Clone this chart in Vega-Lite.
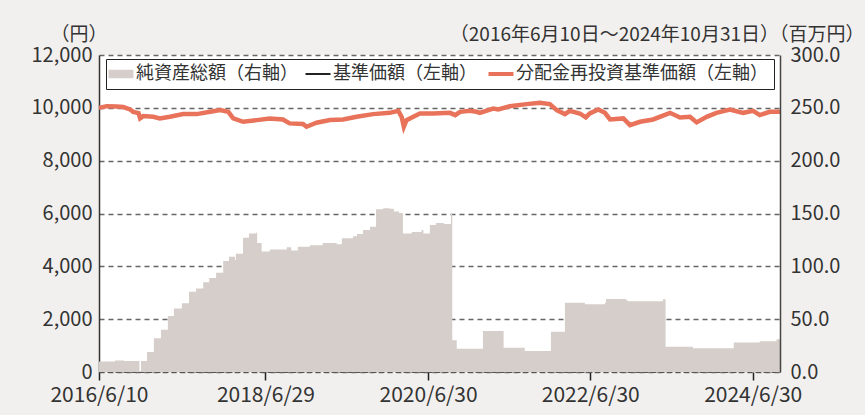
{
  "$schema": "https://vega.github.io/schema/vega-lite/v6.json",
  "width": 681,
  "height": 317,
  "autosize": {"type": "none"},
  "padding": {"left": 99, "top": 55, "right": 85, "bottom": 43},
  "background": "#f2f0ee",
  "config": {
    "view": {"fill": "#ffffff", "stroke": null},
    "font": "Noto Sans CJK JP",
    "axis": {"labelColor": "#333333", "titleColor": "#333333", "labelFont": "Noto Sans CJK JP", "titleFont": "Noto Sans CJK JP", "titleFontWeight": "normal"}
  },
  "datasets": {
    "assets": [
      {"date": "2016-06-10", "assets": 10},
      {"date": "2016-08-21", "assets": 11},
      {"date": "2016-09-30", "assets": 10.5},
      {"date": "2016-12-09", "assets": 1},
      {"date": "2016-12-16", "assets": 10.5},
      {"date": "2017-01-12", "assets": 19},
      {"date": "2017-02-12", "assets": 32},
      {"date": "2017-03-16", "assets": 40},
      {"date": "2017-04-16", "assets": 53},
      {"date": "2017-05-13", "assets": 60},
      {"date": "2017-06-18", "assets": 65},
      {"date": "2017-07-20", "assets": 76},
      {"date": "2017-08-21", "assets": 79},
      {"date": "2017-09-22", "assets": 85},
      {"date": "2017-10-19", "assets": 89},
      {"date": "2017-11-19", "assets": 94},
      {"date": "2017-12-21", "assets": 105},
      {"date": "2018-01-16", "assets": 109},
      {"date": "2018-02-12", "assets": 106},
      {"date": "2018-02-16", "assets": 112},
      {"date": "2018-03-20", "assets": 127},
      {"date": "2018-04-16", "assets": 131},
      {"date": "2018-05-19", "assets": 132},
      {"date": "2018-05-23", "assets": 122},
      {"date": "2018-06-12", "assets": 114},
      {"date": "2018-07-19", "assets": 116},
      {"date": "2018-09-15", "assets": 116},
      {"date": "2018-10-03", "assets": 118},
      {"date": "2018-10-23", "assets": 115},
      {"date": "2018-11-22", "assets": 118.6},
      {"date": "2019-01-15", "assets": 120},
      {"date": "2019-03-14", "assets": 122},
      {"date": "2019-05-16", "assets": 121},
      {"date": "2019-06-08", "assets": 126.5},
      {"date": "2019-07-28", "assets": 128.5},
      {"date": "2019-08-15", "assets": 130.6},
      {"date": "2019-09-11", "assets": 134.5},
      {"date": "2019-10-13", "assets": 137.5},
      {"date": "2019-11-09", "assets": 154},
      {"date": "2019-12-11", "assets": 155},
      {"date": "2020-01-10", "assets": 154.5},
      {"date": "2020-01-28", "assets": 152},
      {"date": "2020-02-20", "assets": 150.5},
      {"date": "2020-03-09", "assets": 131},
      {"date": "2020-04-18", "assets": 132.5},
      {"date": "2020-06-01", "assets": 134.5},
      {"date": "2020-06-09", "assets": 131},
      {"date": "2020-07-08", "assets": 139},
      {"date": "2020-08-04", "assets": 141},
      {"date": "2020-09-09", "assets": 140},
      {"date": "2020-10-11", "assets": 150},
      {"date": "2020-10-17", "assets": 30},
      {"date": "2020-11-06", "assets": 22},
      {"date": "2021-03-04", "assets": 38.8},
      {"date": "2021-06-05", "assets": 23},
      {"date": "2021-09-08", "assets": 19.9},
      {"date": "2022-01-04", "assets": 38},
      {"date": "2022-03-08", "assets": 65.6},
      {"date": "2022-06-06", "assets": 64},
      {"date": "2022-09-04", "assets": 65.6},
      {"date": "2022-09-09", "assets": 69},
      {"date": "2022-12-08", "assets": 68},
      {"date": "2022-12-16", "assets": 67},
      {"date": "2023-05-23", "assets": 68.8},
      {"date": "2023-06-04", "assets": 24},
      {"date": "2023-10-05", "assets": 22.4},
      {"date": "2024-04-06", "assets": 28},
      {"date": "2024-08-01", "assets": 29},
      {"date": "2024-10-15", "assets": 31},
      {"date": "2024-10-31", "assets": 31}
    ],
    "nav": [
      {"date": "2016-06-10", "nav": 10000},
      {"date": "2016-07-15", "nav": 10064},
      {"date": "2016-08-29", "nav": 10050},
      {"date": "2016-09-27", "nav": 10030},
      {"date": "2016-10-28", "nav": 9938},
      {"date": "2016-11-11", "nav": 9849},
      {"date": "2016-12-05", "nav": 9800},
      {"date": "2016-12-12", "nav": 9600},
      {"date": "2016-12-26", "nav": 9687},
      {"date": "2017-02-09", "nav": 9660},
      {"date": "2017-03-11", "nav": 9600},
      {"date": "2017-04-25", "nav": 9660},
      {"date": "2017-06-24", "nav": 9762},
      {"date": "2017-08-24", "nav": 9762},
      {"date": "2017-10-23", "nav": 9849},
      {"date": "2017-12-07", "nav": 9913},
      {"date": "2018-01-13", "nav": 9849},
      {"date": "2018-02-04", "nav": 9600},
      {"date": "2018-03-21", "nav": 9472},
      {"date": "2018-05-21", "nav": 9535},
      {"date": "2018-07-19", "nav": 9600},
      {"date": "2018-09-16", "nav": 9560},
      {"date": "2018-10-16", "nav": 9411},
      {"date": "2018-12-15", "nav": 9390},
      {"date": "2018-12-31", "nav": 9283},
      {"date": "2019-02-14", "nav": 9434},
      {"date": "2019-04-15", "nav": 9536},
      {"date": "2019-06-14", "nav": 9560},
      {"date": "2019-08-13", "nav": 9660},
      {"date": "2019-10-27", "nav": 9762},
      {"date": "2020-01-10", "nav": 9811},
      {"date": "2020-02-17", "nav": 9887},
      {"date": "2020-03-03", "nav": 9660},
      {"date": "2020-03-13", "nav": 9283},
      {"date": "2020-03-25", "nav": 9535},
      {"date": "2020-05-24", "nav": 9786},
      {"date": "2020-07-23", "nav": 9786},
      {"date": "2020-10-07", "nav": 9811},
      {"date": "2020-10-30", "nav": 9724},
      {"date": "2020-11-21", "nav": 9849},
      {"date": "2021-01-04", "nav": 9887},
      {"date": "2021-02-03", "nav": 9849},
      {"date": "2021-02-18", "nav": 9811},
      {"date": "2021-04-19", "nav": 9975},
      {"date": "2021-05-12", "nav": 9938},
      {"date": "2021-07-03", "nav": 10064},
      {"date": "2021-09-16", "nav": 10140},
      {"date": "2021-11-15", "nav": 10189},
      {"date": "2021-12-30", "nav": 10140},
      {"date": "2022-01-30", "nav": 9913},
      {"date": "2022-03-08", "nav": 9762},
      {"date": "2022-03-30", "nav": 9887},
      {"date": "2022-05-14", "nav": 9786},
      {"date": "2022-06-10", "nav": 9636},
      {"date": "2022-06-28", "nav": 9786},
      {"date": "2022-08-05", "nav": 9938},
      {"date": "2022-09-04", "nav": 9811},
      {"date": "2022-09-27", "nav": 9560},
      {"date": "2022-11-26", "nav": 9600},
      {"date": "2022-12-26", "nav": 9347},
      {"date": "2023-02-09", "nav": 9472},
      {"date": "2023-04-09", "nav": 9560},
      {"date": "2023-06-24", "nav": 9811},
      {"date": "2023-08-08", "nav": 9636},
      {"date": "2023-09-22", "nav": 9660},
      {"date": "2023-10-22", "nav": 9449},
      {"date": "2023-12-06", "nav": 9660},
      {"date": "2024-01-19", "nav": 9811},
      {"date": "2024-03-19", "nav": 9938},
      {"date": "2024-05-18", "nav": 9811},
      {"date": "2024-07-02", "nav": 9887},
      {"date": "2024-08-01", "nav": 9724},
      {"date": "2024-09-15", "nav": 9849},
      {"date": "2024-10-31", "nav": 9849}
    ]
  },
  "layer": [
    {
      "data": {"name": "assets", "format": {"parse": {"date": "date:'%Y-%m-%d'"}}},
      "mark": {"type": "area", "interpolate": "step-after"},
      "encoding": {
        "x": {
          "field": "date", "type": "temporal",
          "scale": {"domain": [{"year": 2016, "month": 6, "date": 10}, {"year": 2024, "month": 10, "date": 31}]},
          "axis": {
            "values": [{"year": 2016, "month": 6, "date": 10}, {"year": 2018, "month": 6, "date": 29}, {"year": 2020, "month": 6, "date": 30}, {"year": 2022, "month": 6, "date": 30}, {"year": 2024, "month": 6, "date": 30}],
            "format": "%Y/%-m/%-d", "labelFontSize": 21, "labelPadding": 4, "ticks": true, "tickSize": 8, "tickColor": "#222222", "tickWidth": 1.5,
            "domainColor": "#555555", "domainDash": [5, 3], "domainWidth": 1.2, "grid": false, "title": null, "zindex": 1,
            "labelFlush": false, "labelOverlap": false, "labelAlign": "center",
            "encode": {"ticks": {"update": {"y": {"value": 0}, "y2": {"value": -8}}}}
          }
        },
        "y": {
          "field": "assets", "type": "quantitative",
          "scale": {"domain": [0, 300]},
          "axis": {
            "orient": "right", "values": [0, 50, 100, 150, 200, 250, 300], "format": ".1f", "labelFontSize": 20, "labelPadding": 10,
            "ticks": false, "grid": false, "domainColor": "#444444", "domainWidth": 1.5, "zindex": 1,
            "title": "（2016年6月10日～2024年10月31日）（百万円）", "titleAngle": 0, "titleAlign": "right", "titleBaseline": "alphabetic",
            "titleX": 84, "titleY": -15, "titleFontSize": 19
          }
        },
        "color": {
          "datum": "純資産総額（右軸）", "type": "nominal",
          "scale": {"domain": ["純資産総額（右軸）", "基準価額（左軸）", "分配金再投資基準価額（左軸）"], "range": ["#d6ceca", "#222222", "#e8735a"]},
          "legend": {
            "orient": "none", "legendX": 7, "legendY": 4, "direction": "horizontal", "title": null,
            "fillColor": "#ffffff", "strokeColor": "#222222", "padding": 6, "symbolSize": 625,
            "labelFontSize": 18, "labelFont": "Noto Sans CJK JP", "labelColor": "#333333", "labelLimit": 400,
            "columnPadding": 3, "labelOffset": 6,
            "encode": {
              "symbols": {
                "update": {
                  "shape": {"signal": "datum.value === '純資産総額（右軸）' ? 'M-1,-0.34H1V0.34H-1Z' : 'stroke'"},
                  "fill": {"signal": "datum.value === '純資産総額（右軸）' ? '#d6ceca' : 'transparent'"},
                  "stroke": {"signal": "datum.value === '純資産総額（右軸）' ? 'transparent' : (datum.value === '基準価額（左軸）' ? '#222222' : '#e8735a')"},
                  "strokeWidth": {"signal": "datum.value === '純資産総額（右軸）' ? 0 : (datum.value === '基準価額（左軸）' ? 2 : 4)"},
                  "opacity": {"value": 1}
                }
              }
            }
          }
        }
      }
    },
    {
      "data": {"name": "nav", "format": {"parse": {"date": "date:'%Y-%m-%d'"}}},
      "encoding": {
        "x": {"field": "date", "type": "temporal"},
        "y": {
          "field": "nav", "type": "quantitative",
          "scale": {"domain": [0, 12000]},
          "axis": {
            "orient": "left", "values": [0, 2000, 4000, 6000, 8000, 10000, 12000], "format": ",d", "labelFontSize": 20, "labelPadding": 7,
            "ticks": false, "grid": true, "gridColor": "#666666", "gridDash": [5, 4], "gridWidth": 1.3,
            "domainColor": "#333333", "domainWidth": 1.5,
            "title": "（円）", "titleAngle": 0, "titleAlign": "right", "titleBaseline": "alphabetic",
            "titleX": 8, "titleY": -15, "titleFontSize": 19
          }
        }
      },
      "layer": [
        {
          "mark": {"type": "line", "strokeWidth": 2},
          "encoding": {"color": {"datum": "基準価額（左軸）", "type": "nominal"}}
        },
        {
          "mark": {"type": "line", "strokeWidth": 4.5},
          "encoding": {"color": {"datum": "分配金再投資基準価額（左軸）", "type": "nominal"}}
        }
      ]
    }
  ],
  "resolve": {"scale": {"y": "independent"}}
}
